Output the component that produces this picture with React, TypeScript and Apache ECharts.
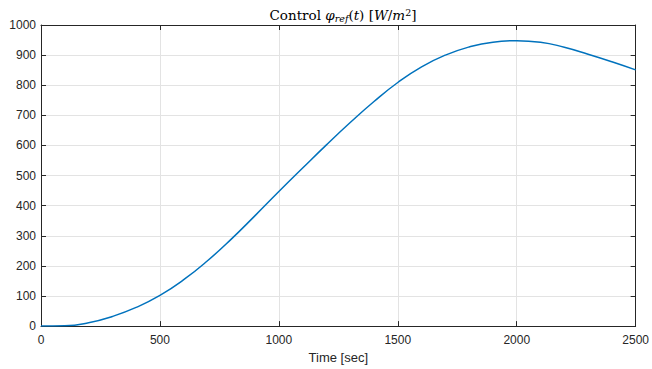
import React, { useEffect, useRef } from "react";
import * as echarts from "echarts";

const timeSec = [0, 100, 200, 300, 400, 500, 600, 700, 800, 900, 1000, 1100, 1200, 1300, 1400, 1500, 1600, 1700, 1800, 1900, 2000, 2100, 2200, 2300, 2400, 2500];
const phiRef = [0, 1, 11, 32, 62, 102, 154, 217, 289, 367, 447, 525, 602, 676, 746, 809, 861, 900, 927, 943, 948, 943, 926, 903, 878, 851];
const xTicks = [0, 500, 1000, 1500, 2000, 2500];
const yTicks = [0, 100, 200, 300, 400, 500, 600, 700, 800, 900, 1000];

export default function App() {
  const ref = useRef<HTMLDivElement>(null);
  useEffect(() => {
    if (!ref.current) return;
    const chart = echarts.init(ref.current, undefined, { renderer: "svg" });
    const axisColor = "#262626";
    const serif = "'DejaVu Serif', 'Liberation Serif', serif";
    const sans = "'Liberation Sans', Arial, sans-serif";
    chart.setOption({
      animation: false,
      backgroundColor: "#ffffff",
      title: {
        text: "Control {i|φ}{sub|ref}({i|t}) [{i|W}/{i|m}{sup|2}]",
        left: 338,
        textAlign: "center",
        top: 2,
        textStyle: {
          fontFamily: serif,
          fontWeight: "normal",
          fontSize: 13.5,
          color: "#000",
          rich: {
            i: { fontFamily: serif, fontStyle: "italic", fontSize: 13.5, color: "#000" },
            sub: { fontFamily: serif, fontStyle: "italic", fontSize: 9.5, verticalAlign: "bottom", padding: [6, 0, 0, 0], color: "#000" },
            sup: { fontFamily: serif, fontSize: 9.5, verticalAlign: "top", padding: [0, 0, 6, 0], color: "#000" },
          },
        },
      },
      grid: { left: 41, right: 16, top: 25, bottom: 38, containLabel: false },
      xAxis: [
        {
          type: "value",
          min: xTicks[0],
          max: xTicks[xTicks.length - 1],
          interval: 500,
          position: "bottom",
          name: "Time [sec]",
          nameLocation: "middle",
          nameGap: 24,
          nameTextStyle: { fontFamily: sans, fontSize: 13, color: axisColor },
          axisLine: { show: true, onZero: false, lineStyle: { color: axisColor, width: 1 } },
          axisTick: { show: true, inside: true, length: 5, lineStyle: { color: axisColor } },
          axisLabel: { fontFamily: sans, fontSize: 12, color: axisColor, margin: 8, formatter: (v: number) => String(v) },
          splitLine: { show: true, lineStyle: { color: "#e3e3e3", width: 1 } },
        },
        {
          type: "value",
          min: xTicks[0],
          max: xTicks[xTicks.length - 1],
          interval: 500,
          position: "top",
          axisLine: { show: true, onZero: false, lineStyle: { color: axisColor, width: 1 } },
          axisTick: { show: true, inside: true, length: 5, lineStyle: { color: axisColor } },
          axisLabel: { show: false },
          splitLine: { show: false },
        },
      ],
      yAxis: [
        {
          type: "value",
          min: yTicks[0],
          max: yTicks[yTicks.length - 1],
          interval: 100,
          position: "left",
          axisLine: { show: true, onZero: false, lineStyle: { color: axisColor, width: 1 } },
          axisTick: { show: true, inside: true, length: 5, lineStyle: { color: axisColor } },
          axisLabel: { fontFamily: sans, fontSize: 12, color: axisColor, margin: 5, formatter: (v: number) => String(v) },
          splitLine: { show: true, lineStyle: { color: "#e3e3e3", width: 1 } },
        },
        {
          type: "value",
          min: yTicks[0],
          max: yTicks[yTicks.length - 1],
          interval: 100,
          position: "right",
          axisLine: { show: true, onZero: false, lineStyle: { color: axisColor, width: 1 } },
          axisTick: { show: true, inside: true, length: 5, lineStyle: { color: axisColor } },
          axisLabel: { show: false },
          splitLine: { show: false },
        },
      ],
      series: [
        {
          type: "line",
          xAxisIndex: 0,
          yAxisIndex: 0,
          data: timeSec.map((t, i) => [t, phiRef[i]]),
          smooth: 0.5,
          showSymbol: false,
          lineStyle: { color: "#0072BD", width: 1.5 },
          z: 3,
        },
      ],
    });
    return () => chart.dispose();
  }, []);
  return <div ref={ref} style={{ width: 652, height: 369, position: "fixed", left: 0, top: 0 }} />;
}
